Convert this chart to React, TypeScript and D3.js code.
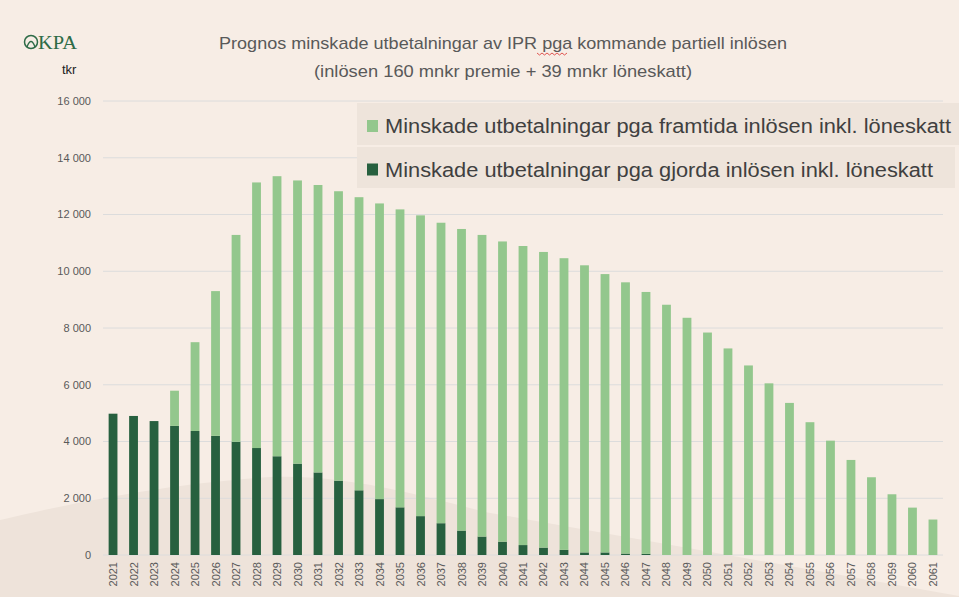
import React, { useRef, useEffect } from 'react';
import * as d3 from 'd3';

const years = [
  '2021', '2022', '2023', '2024', '2025', '2026', '2027', '2028', '2029', '2030',
  '2031', '2032', '2033', '2034', '2035', '2036', '2037', '2038', '2039', '2040',
  '2041', '2042', '2043', '2044', '2045', '2046', '2047', '2048', '2049', '2050',
  '2051', '2052', '2053', '2054', '2055', '2056', '2057', '2058', '2059', '2060', '2061',
];

// Minskade utbetalningar pga gjorda inlösen inkl. löneskatt (tkr)
const gjorda = [
  4980, 4900, 4720, 4550, 4370, 4200, 3990, 3770, 3480, 3220,
  2910, 2620, 2280, 1970, 1680, 1370, 1120, 860, 650, 470,
  350, 260, 180, 90, 90, 50, 40, 0, 0, 0,
  0, 0, 0, 0, 0, 0, 0, 0, 0, 0, 0,
];

// Minskade utbetalningar pga framtida inlösen inkl. löneskatt (tkr)
const framtida = [
  0, 0, 0, 1240, 3130, 5100, 7290, 9360, 9870, 9980,
  10130, 10200, 10330, 10420, 10500, 10600, 10590, 10630, 10630, 10580,
  10540, 10420, 10280, 10120, 9810, 9560, 9230, 8820, 8360, 7840,
  7280, 6680, 6050, 5360, 4680, 4030, 3350, 2740, 2140, 1670, 1250,
];

const yTicks = [0, 2000, 4000, 6000, 8000, 10000, 12000, 14000, 16000];

const seriesNames = [
  'Minskade utbetalningar pga framtida inlösen inkl. löneskatt',
  'Minskade utbetalningar pga gjorda inlösen inkl. löneskatt',
];

const titleLines = [
  'Prognos minskade utbetalningar av IPR pga kommande partiell inlösen',
  '(inlösen 160 mnkr premie + 39 mnkr löneskatt)',
];

const W = 959;
const H = 597;
const DARK = '#27603f';
const LIGHT = '#93c78d';
const FONT = '"Liberation Sans", Arial, sans-serif';

const App: React.FC = () => {
  const ref = useRef<SVGSVGElement | null>(null);

  useEffect(() => {
    const svg = d3.select(ref.current);
    svg.selectAll('*').remove();

    // background + soft hill shape
    svg.append('rect').attr('width', W).attr('height', H).attr('fill', '#f7ede5');
    svg.append('path')
      .attr('d', 'M0,597 L0,520 C60,506 160,484 270,477 C340,474 410,492 485,512 L959,596 L959,597 Z')
      .attr('fill', '#eee3da');

    const x = d3.scaleBand<string>()
      .domain(years)
      .range([103, 943])
      .paddingInner(0.57)
      .paddingOuter(0.275);

    const y = d3.scaleLinear().domain([0, 16000]).range([555, 101]);

    // gridlines
    svg.append('g')
      .selectAll('line')
      .data(yTicks)
      .join('line')
      .attr('x1', 103)
      .attr('x2', 943)
      .attr('y1', (d) => y(d))
      .attr('y2', (d) => y(d))
      .attr('stroke', '#dcdcdc')
      .attr('stroke-width', 1);

    // y tick labels
    const fmt = (d: number) => (d === 0 ? '0' : d3.format(',')(d).replace(',', ' '));
    svg.append('g')
      .selectAll('text')
      .data(yTicks)
      .join('text')
      .attr('x', 91)
      .attr('y', (d) => y(d))
      .attr('dy', '0.35em')
      .attr('text-anchor', 'end')
      .style('font-family', FONT)
      .style('font-size', '11px')
      .style('fill', '#595959')
      .text(fmt);

    // stacked bars
    const rows = years.map((yr, i) => ({ year: yr, gjorda: gjorda[i], framtida: framtida[i] }));
    const stack = d3.stack<{ year: string; gjorda: number; framtida: number }>()
      .keys(['gjorda', 'framtida']);
    const layers = stack(rows);
    const colors: Record<string, string> = { gjorda: DARK, framtida: LIGHT };

    layers.forEach((layer) => {
      svg.append('g')
        .attr('fill', colors[layer.key])
        .selectAll('rect')
        .data(layer.filter((d) => d[1] - d[0] > 0))
        .join('rect')
        .attr('x', (d) => x(d.data.year)!)
        .attr('width', x.bandwidth())
        .attr('y', (d) => y(d[1]))
        .attr('height', (d) => y(d[0]) - y(d[1]));
    });

    // x labels (rotated)
    svg.append('g')
      .selectAll('text')
      .data(years)
      .join('text')
      .attr('transform', (d) => `translate(${x(d)! + x.bandwidth() / 2 + 4}, 562) rotate(-90)`)
      .attr('text-anchor', 'end')
      .style('font-family', FONT)
      .style('font-size', '11px')
      .style('fill', '#595959')
      .text((d) => d);

    // title
    titleLines.forEach((t, i) => {
      svg.append('text')
        .attr('x', 503)
        .attr('y', 49 + i * 28)
        .attr('text-anchor', 'middle')
        .attr('textLength', i === 0 ? 568 : 378)
        .attr('lengthAdjust', 'spacingAndGlyphs')
        .style('font-family', FONT)
        .style('font-size', '17px')
        .style('fill', '#595959')
        .text(t);
    });
    // spell-check squiggle under "pga"
    const squiggle = d3.range(0, 13).map((k) => [537 + k * 2.5, k % 2 === 0 ? 53 : 55] as [number, number]);
    svg.append('path')
      .attr('d', d3.line()(squiggle)!)
      .attr('fill', 'none')
      .attr('stroke', '#d9302c')
      .attr('stroke-width', 0.8);

    // logo
    const logo = svg.append('g').attr('fill', '#2e6b47').attr('stroke', '#2e6b47');
    logo.append('circle').attr('cx', 31).attr('cy', 42).attr('r', 6.5).attr('fill', 'none').attr('stroke-width', 1.5);
    logo.append('path').attr('d', 'M27,47 Q31,36 35,47').attr('fill', 'none').attr('stroke-width', 1.3);
    logo.append('text')
      .attr('x', 38)
      .attr('y', 49)
      .attr('stroke', 'none')
      .attr('textLength', 39)
      .attr('lengthAdjust', 'spacingAndGlyphs')
      .style('font-family', '"Liberation Serif", serif')
      .style('font-size', '19px')
      .text('KPA');

    svg.append('text')
      .attr('x', 62)
      .attr('y', 74)
      .style('font-family', FONT)
      .style('font-size', '13px')
      .style('fill', '#222')
      .text('tkr');

    // legend
    const legendRows = [
      { name: seriesNames[0], color: LIGHT, top: 103, bottom: 145, right: 959, textLen: 566 },
      { name: seriesNames[1], color: DARK, top: 147, bottom: 188, right: 955, textLen: 548 },
    ];
    legendRows.forEach((r) => {
      const g = svg.append('g');
      g.append('rect')
        .attr('x', 357)
        .attr('y', r.top)
        .attr('width', r.right - 357)
        .attr('height', r.bottom - r.top)
        .attr('fill', '#eee4db');
      const cy = (r.top + r.bottom) / 2 + 2;
      g.append('rect')
        .attr('x', 367)
        .attr('y', cy - 6)
        .attr('width', 11)
        .attr('height', 12)
        .attr('fill', r.color);
      g.append('text')
        .attr('x', 385)
        .attr('y', cy + 7)
        .attr('textLength', r.textLen)
        .attr('lengthAdjust', 'spacingAndGlyphs')
        .style('font-family', FONT)
        .style('font-size', '20px')
        .style('fill', '#404040')
        .text(r.name);
    });
  }, []);

  return (
    <svg
      ref={ref}
      width={W}
      height={H}
      style={{ position: 'absolute', left: 0, top: 0, display: 'block' }}
    />
  );
};

export default App;
